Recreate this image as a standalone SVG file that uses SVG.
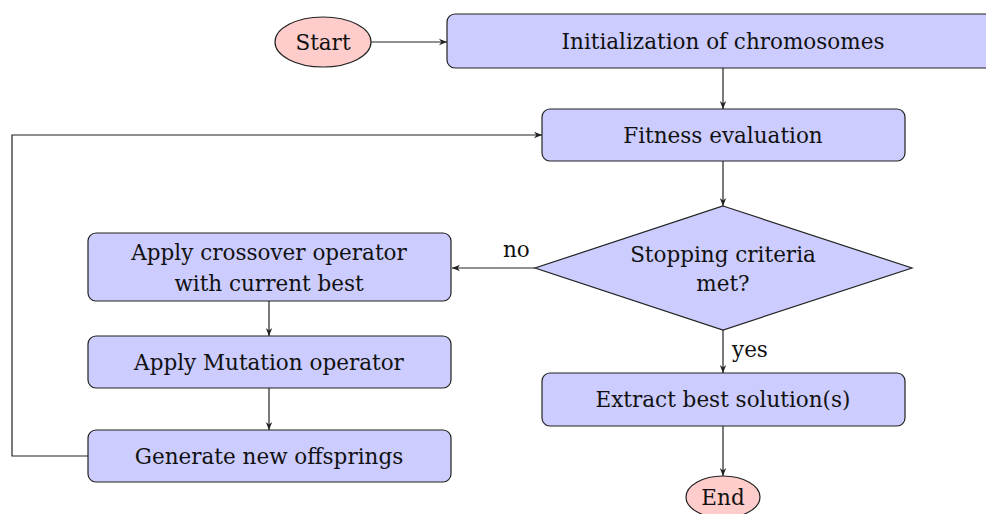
<svg xmlns="http://www.w3.org/2000/svg" width="986" height="514" viewBox="0 0 986 514">
<defs>
<marker id="arr" viewBox="0 0 10 10" refX="10" refY="5" markerWidth="8" markerHeight="8" markerUnits="userSpaceOnUse" orient="auto">
<path d="M0,1 L10,5 L0,9 L3,5 Z" fill="#222"/>
</marker>
<style>
.box{fill:#ccccff;stroke:#222;stroke-width:1.2}
.term{fill:#ffcccc;stroke:#222;stroke-width:1.2}
.t{font-family:"DejaVu Serif","Liberation Serif",serif;font-size:21.5px;fill:#111;text-anchor:middle}
.lbl{font-family:"DejaVu Serif","Liberation Serif",serif;font-size:21.5px;fill:#111}
.c{fill:none;stroke:#222;stroke-width:1.2;marker-end:url(#arr)}
</style>
</defs>
<rect width="986" height="514" fill="#fff"/>
<g id="start"><ellipse class="term" cx="323" cy="42" rx="48" ry="25"/><text class="t" x="323" y="50">Start</text></g>
<g id="init"><rect class="box" x="447" y="14" width="552" height="54" rx="8"/><text class="t" x="723" y="49">Initialization of chromosomes</text></g>
<g id="fitness"><rect class="box" x="542" y="109" width="363" height="52" rx="8"/><text class="t" x="723" y="143">Fitness evaluation</text></g>
<g id="decision"><polygon class="box" points="723,206 912,268 723,330 535,268"/><text class="t" x="723" y="262">Stopping criteria</text><text class="t" x="723" y="291">met?</text></g>
<g id="crossover"><rect class="box" x="88" y="233" width="363" height="68" rx="8"/><text class="t" x="269" y="260">Apply crossover operator</text><text class="t" x="269" y="291">with current best</text></g>
<g id="mutation"><rect class="box" x="88" y="336" width="363" height="52" rx="8"/><text class="t" x="269" y="370">Apply Mutation operator</text></g>
<g id="generate"><rect class="box" x="88" y="430" width="363" height="52" rx="8"/><text class="t" x="269" y="464">Generate new offsprings</text></g>
<g id="extract"><rect class="box" x="542" y="373" width="363" height="53" rx="8"/><text class="t" x="723" y="407">Extract best solution(s)</text></g>
<g id="end"><ellipse class="term" cx="723" cy="497" rx="37" ry="21"/><text class="t" x="723" y="505">End</text></g>
<g id="connectors">
<path class="c" d="M371,42 L447,42"/>
<path class="c" d="M723,68 L723,109"/>
<path class="c" d="M723,161 L723,206"/>
<path class="c" d="M535,268 L452,268"/>
<text class="lbl" x="503" y="257">no</text>
<path class="c" d="M723,330 L723,373"/>
<text class="lbl" x="732" y="357">yes</text>
<path class="c" d="M723,426 L723,476"/>
<path class="c" d="M269,301 L269,336"/>
<path class="c" d="M269,388 L269,430"/>
<path class="c" d="M88,456 L12,456 L12,135 L542,135"/>
</g>
</svg>
